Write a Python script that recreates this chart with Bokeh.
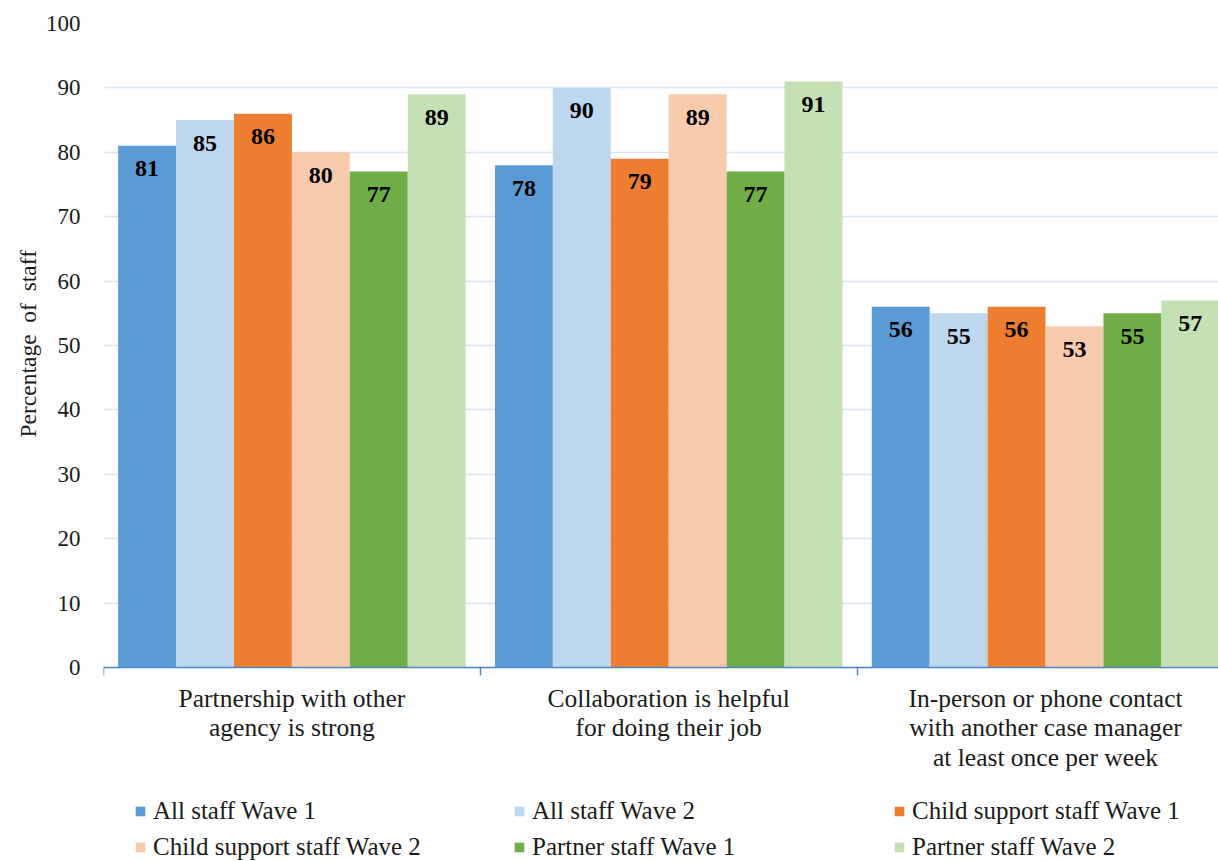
from bokeh.plotting import figure
from bokeh.models import ColumnDataSource, Range1d, FixedTicker, Legend, LegendItem, Title
from bokeh.transform import dodge
from bokeh.core.properties import value
from bokeh.embed import file_html
from bokeh.resources import INLINE

# Survey categories (x axis groups)
categories = [
    "Partnership with other\nagency is strong",
    "Collaboration is helpful\nfor doing their job",
    "In-person or phone contact\nwith another case manager\nat least once per week",
]

# Percentage of staff per series
series_names = [
    "All staff Wave 1",
    "All staff Wave 2",
    "Child support staff Wave 1",
    "Child support staff Wave 2",
    "Partner staff Wave 1",
    "Partner staff Wave 2",
]
all_staff_w1 = [81, 78, 56]
all_staff_w2 = [85, 90, 55]
child_support_w1 = [86, 79, 56]
child_support_w2 = [80, 89, 53]
partner_w1 = [77, 77, 55]
partner_w2 = [89, 91, 57]

y_ticks = [0, 10, 20, 30, 40, 50, 60, 70, 80, 90, 100]

series_values = [all_staff_w1, all_staff_w2, child_support_w1,
                 child_support_w2, partner_w1, partner_w2]
colors = ["#5B9BD5", "#BDD7EE", "#ED7D31", "#F8CBAD", "#70AD47", "#C5E0B4"]

FONT = "Liberation Serif"
AXIS_BLUE = "#4F86C6"
TEXT = "#1a1a1a"

# each group occupies one unit on the x axis
centers = [i + 0.5 for i in range(len(categories))]
bounds = [i for i in range(len(categories) + 1)]
bar_w = 0.1537

# the frame runs to the bottom of the canvas; the space below zero holds
# the category labels and the legend
p = figure(
    width=1218, height=861,
    x_range=Range1d(0, 2.959), y_range=Range1d(-30.12, 100),
    output_backend="svg", toolbar_location=None,
    min_border_left=103, min_border_right=0,
    min_border_top=23, min_border_bottom=0,
)
p.outline_line_color = None
p.background_fill_color = "white"

# grid
p.xgrid.visible = False
p.ygrid.grid_line_color = "#D9E4F1"
p.ygrid.grid_line_width = 1.5

# y axis
yax = p.yaxis[0]
yax.ticker = FixedTicker(ticks=y_ticks)
yax.axis_line_color = None
yax.major_tick_line_color = None
yax.minor_tick_line_color = None
yax.major_tick_out = 0
yax.major_label_standoff = 23
yax.major_label_text_font = FONT
yax.major_label_text_font_size = "23px"
yax.major_label_text_color = TEXT

# y axis title, placed alongside the 0-100 span
ytitle = Title(text="Percentage \u00a0of \u00a0staff", align="left", offset=424,
               text_font=FONT, text_font_size="23.5px", text_font_style="normal",
               text_color=TEXT, standoff=4)
p.add_layout(ytitle, "left")

# x axis at zero: category labels at group centres, ticks at group boundaries
xax = p.xaxis[0]
xax.fixed_location = 0
xax.ticker = FixedTicker(ticks=centers, minor_ticks=bounds)
xax.major_label_overrides = {c: lab for c, lab in zip(centers, categories)}
xax.axis_line_color = AXIS_BLUE
xax.axis_line_width = 1.5
xax.major_tick_line_color = None
xax.major_tick_out = 0
xax.major_tick_in = 0
xax.minor_tick_line_color = AXIS_BLUE
xax.minor_tick_line_width = 1.5
xax.minor_tick_in = 0
xax.minor_tick_out = 8
xax.major_label_standoff = 8
xax.major_label_text_font = FONT
xax.major_label_text_font_size = "25.5px"
xax.major_label_text_line_height = 1.03
xax.major_label_text_color = TEXT

renderers = []
for k, (vals, color) in enumerate(zip(series_values, colors)):
    off = (k - 2.5) * bar_w
    src = ColumnDataSource(dict(x=centers, top=vals, label=[str(v) for v in vals]))
    r = p.vbar(x=dodge("x", off, range=p.x_range), top="top", width=bar_w,
               source=src, fill_color=color, line_color=None)
    p.text(x=dodge("x", off, range=p.x_range), y="top", text="label", source=src,
           y_offset=23, text_align="center", text_baseline="middle",
           text_font=value(FONT), text_font_style="bold",
           text_font_size="24px", text_color="black")
    renderers.append(r)

# legend: three columns of two entries each, at the foot of the canvas
col_x = [31, 410, 790]
for c, x0 in enumerate(col_x):
    items = [LegendItem(label=series_names[i], renderers=[renderers[i]])
             for i in (c, c + 3)]
    leg = Legend(items=items, location=(x0, 0), orientation="vertical",
                 glyph_width=12, glyph_height=12, label_standoff=7,
                 label_text_font=FONT, label_text_font_size="25px",
                 label_text_color=TEXT, label_height=27, spacing=8,
                 padding=0, margin=0, border_line_color=None,
                 background_fill_alpha=0)
    p.add_layout(leg)

open("out.html", "w").write(file_html(p, INLINE))
